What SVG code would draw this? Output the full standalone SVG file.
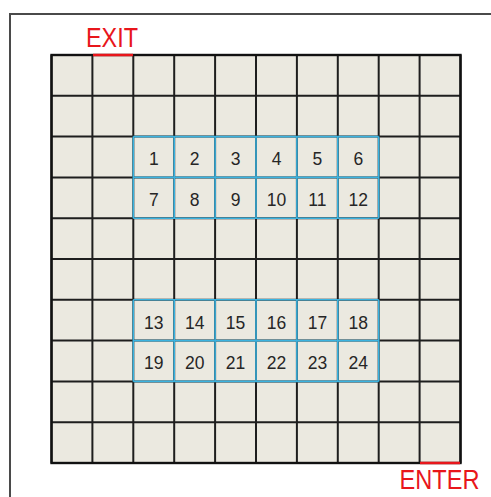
<svg xmlns="http://www.w3.org/2000/svg" width="491" height="497" viewBox="0 0 491 497">
<style>
.frame{fill:none;stroke:#4a4a4a;stroke-width:2}
.blue{fill:none;stroke:#3bb3e0;stroke-width:1.6}
.num{font-family:"Liberation Sans",Arial,sans-serif;font-size:17.5px;fill:#262626;text-anchor:middle}
.lbl{font-family:"Liberation Sans",Arial,sans-serif;font-size:28px;fill:#e8161b;text-anchor:middle}
.red{stroke:#e8161b;stroke-width:2.5}
</style>
<rect width="491" height="497" fill="#ffffff"/>
<path class="frame" d="M10,497 V14 H491"/>
<g id="grid">
<rect x="51.5" y="55" width="409" height="408" fill="#ebe9e0"/>
<path stroke="#1e1e1e" stroke-width="2" fill="none" d="M51.5,55V463M92.4,55V463M133.3,55V463M174.2,55V463M215.1,55V463M256,55V463M296.9,55V463M337.8,55V463M378.7,55V463M419.6,55V463M460.5,55V463M51.5,55H460.5M51.5,95.8H460.5M51.5,136.6H460.5M51.5,177.4H460.5M51.5,218.2H460.5M51.5,259H460.5M51.5,299.8H460.5M51.5,340.6H460.5M51.5,381.4H460.5M51.5,422.2H460.5M51.5,463H460.5"/>
<rect x="51.5" y="55" width="409" height="408" fill="none" stroke="#111" stroke-width="2.4"/>
</g>
<g id="block-top">
<path class="blue" d="M133.3,136.6V218.2M174.2,136.6V218.2M215.1,136.6V218.2M256,136.6V218.2M296.9,136.6V218.2M337.8,136.6V218.2M378.7,136.6V218.2M133.3,136.6H378.7M133.3,177.4H378.7M133.3,218.2H378.7"/>
</g>
<g id="block-bottom">
<path class="blue" d="M133.3,299.8V381.4M174.2,299.8V381.4M215.1,299.8V381.4M256,299.8V381.4M296.9,299.8V381.4M337.8,299.8V381.4M378.7,299.8V381.4M133.3,299.8H378.7M133.3,340.6H378.7M133.3,381.4H378.7"/>
</g>
<g id="numbers">
<g id="cell-1"><text class="num" x="153.8" y="165">1</text></g>
<g id="cell-2"><text class="num" x="194.7" y="165">2</text></g>
<g id="cell-3"><text class="num" x="235.6" y="165">3</text></g>
<g id="cell-4"><text class="num" x="276.5" y="165">4</text></g>
<g id="cell-5"><text class="num" x="317.4" y="165">5</text></g>
<g id="cell-6"><text class="num" x="358.3" y="165">6</text></g>
<g id="cell-7"><text class="num" x="153.8" y="205.5">7</text></g>
<g id="cell-8"><text class="num" x="194.7" y="205.5">8</text></g>
<g id="cell-9"><text class="num" x="235.6" y="205.5">9</text></g>
<g id="cell-10"><text class="num" x="276.5" y="205.5">10</text></g>
<g id="cell-11"><text class="num" x="317.4" y="205.5">11</text></g>
<g id="cell-12"><text class="num" x="358.3" y="205.5">12</text></g>
<g id="cell-13"><text class="num" x="153.8" y="328.5">13</text></g>
<g id="cell-14"><text class="num" x="194.7" y="328.5">14</text></g>
<g id="cell-15"><text class="num" x="235.6" y="328.5">15</text></g>
<g id="cell-16"><text class="num" x="276.5" y="328.5">16</text></g>
<g id="cell-17"><text class="num" x="317.4" y="328.5">17</text></g>
<g id="cell-18"><text class="num" x="358.3" y="328.5">18</text></g>
<g id="cell-19"><text class="num" x="153.8" y="369">19</text></g>
<g id="cell-20"><text class="num" x="194.7" y="369">20</text></g>
<g id="cell-21"><text class="num" x="235.6" y="369">21</text></g>
<g id="cell-22"><text class="num" x="276.5" y="369">22</text></g>
<g id="cell-23"><text class="num" x="317.4" y="369">23</text></g>
<g id="cell-24"><text class="num" x="358.3" y="369">24</text></g>
</g>
<g id="exit">
<line class="red" x1="93" y1="55" x2="133" y2="55"/>
<text class="lbl" x="112" y="47" textLength="52" lengthAdjust="spacingAndGlyphs">EXIT</text>
</g>
<g id="enter">
<line class="red" x1="420" y1="463" x2="460" y2="463"/>
<text class="lbl" x="439.5" y="489" font-size="24" textLength="80" lengthAdjust="spacingAndGlyphs">ENTER</text>
</g>
</svg>
